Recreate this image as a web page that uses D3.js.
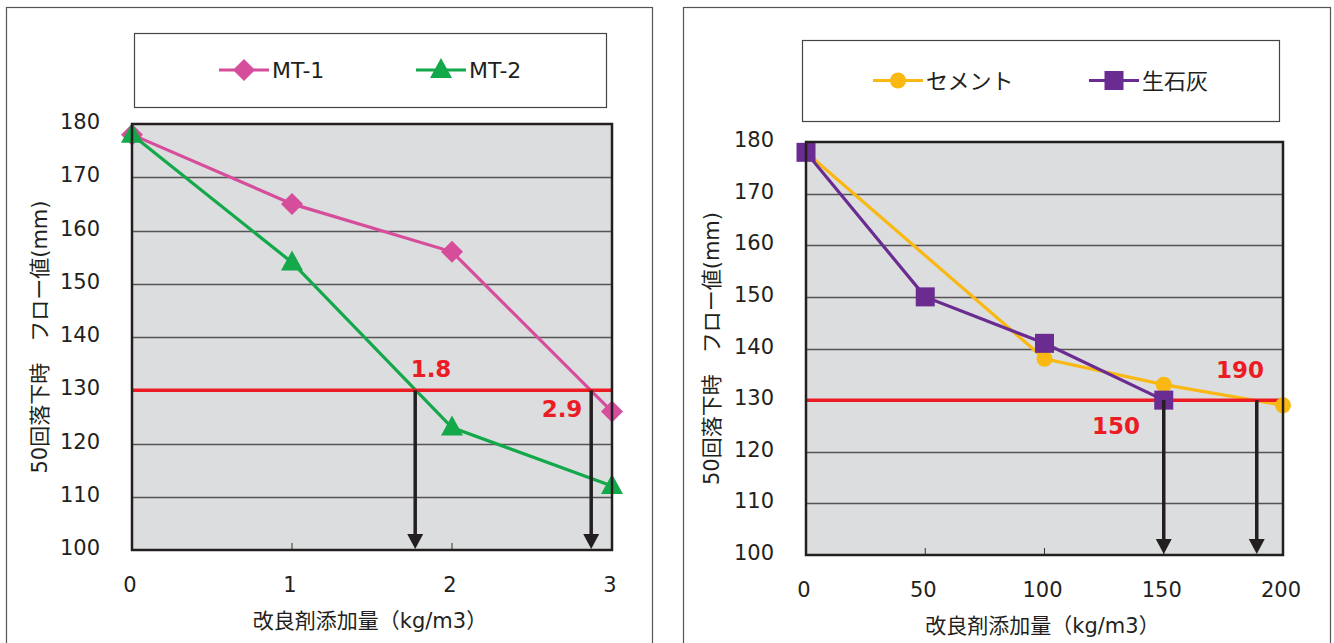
<!DOCTYPE html>
<html>
<head>
<meta charset="utf-8">
<script src="https://cdn.jsdelivr.net/npm/d3@7"></script>
<style>
  body { margin: 0; background: #fff; }
  svg { display: block; font-family: "DejaVu Sans", "Noto Sans CJK JP", sans-serif; }
</style>
</head>
<body>
<svg id="chart" width="1334" height="643"></svg>
<script>
// left chart: MT series
var mtX = [0, 1, 2, 3];
var mt1 = [178, 165, 156, 126];
var mt2 = [178, 154, 123, 112];
var mtTicksX = [0, 1, 2, 3];
var mtCross = [1.77, 2.87];
var mtCrossLabels = ["1.8", "2.9"];

// right chart: cement / quicklime
var cementX = [0, 100, 150, 200];
var cement = [178, 138, 133, 129];
var limeX = [0, 50, 100, 150];
var lime = [178, 150, 141, 130];
var rightTicksX = [0, 50, 100, 150, 200];
var rightCross = [150, 189];
var rightCrossLabels = ["150", "190"];

var yTicks = [100, 110, 120, 130, 140, 150, 160, 170, 180];
var limitValue = 130;
var yTitle = "50回落下時　フロー値(mm)";
var xTitle = "改良剤添加量（kg/m3）";

var svg = d3.select("#chart");

function marker(g, type, color, x, y) {
    if (type === "diamond") {
        g.append("path").attr("d", "M0,-11L11,0L0,11L-11,0Z")
            .attr("transform", "translate(" + x + "," + y + ")").attr("fill", color);
    } else if (type === "triangle") {
        g.append("path").attr("d", "M0,-12L11,8L-11,8Z")
            .attr("transform", "translate(" + x + "," + y + ")").attr("fill", color);
    } else if (type === "circle") {
        g.append("circle").attr("cx", x).attr("cy", y).attr("r", 8).attr("fill", color);
    } else {
        g.append("rect").attr("x", x - 9.5).attr("y", y - 9.5).attr("width", 19).attr("height", 19).attr("fill", color);
    }
}

function drawPanel(cfg) {
    var g = svg.append("g");

    // outer frame
    g.append("rect").attr("x", cfg.frame[0] + 0.5).attr("y", 7.5)
        .attr("width", cfg.frame[1] - cfg.frame[0]).attr("height", 660)
        .attr("fill", "#fff").attr("stroke", "#555").attr("stroke-width", 1.2);

    // legend box
    g.append("rect").attr("x", cfg.legend[0] + 0.5).attr("y", cfg.legend[1] + 0.5)
        .attr("width", cfg.legend[2]).attr("height", cfg.legend[3])
        .attr("fill", "#fff").attr("stroke", "#444").attr("stroke-width", 1.2);

    var x = d3.scaleLinear().domain(cfg.xDomain).range([cfg.plot[0], cfg.plot[1]]);
    var y = d3.scaleLinear().domain([100, 180]).range([cfg.plot[3], cfg.plot[2]]);

    g.append("rect").attr("x", cfg.plot[0]).attr("y", cfg.plot[2])
        .attr("width", cfg.plot[1] - cfg.plot[0]).attr("height", cfg.plot[3] - cfg.plot[2])
        .attr("fill", "#dcdddf");

    // gridlines
    g.selectAll(".grid").data(yTicks.slice(1, -1)).enter().append("line")
        .attr("x1", cfg.plot[0]).attr("x2", cfg.plot[1])
        .attr("y1", function (d) { return Math.round(y(d)) + 0.5; })
        .attr("y2", function (d) { return Math.round(y(d)) + 0.5; })
        .attr("stroke", "#555").attr("stroke-width", 1.3);

    // small x ticks inside bottom
    g.selectAll(".xt").data(cfg.xTicks.slice(1, -1)).enter().append("line")
        .attr("x1", function (d) { return x(d); }).attr("x2", function (d) { return x(d); })
        .attr("y1", cfg.plot[3]).attr("y2", cfg.plot[3] - 7)
        .attr("stroke", "#333").attr("stroke-width", 1);

    // series lines
    cfg.series.forEach(function (s) {
        var pts = s.x.map(function (v, i) { return [x(v), y(s.y[i])]; });
        g.append("path").attr("d", d3.line()(pts)).attr("fill", "none")
            .attr("stroke", s.color).attr("stroke-width", 3.2);
    });

    // limit line
    g.append("line").attr("x1", cfg.plot[0]).attr("x2", cfg.plot[1])
        .attr("y1", y(limitValue)).attr("y2", y(limitValue))
        .attr("stroke", "#ec1c24").attr("stroke-width", 3.5);

    cfg.series.forEach(function (s) {
        s.x.forEach(function (v, i) { marker(g, s.marker, s.color, x(v), y(s.y[i])); });
    });

    // arrows
    cfg.cross.forEach(function (c) {
        g.append("line").attr("x1", x(c)).attr("x2", x(c))
            .attr("y1", y(limitValue)).attr("y2", cfg.plot[3] - 10)
            .attr("stroke", "#231f20").attr("stroke-width", 3.5);
        g.append("path")
            .attr("d", "M" + (x(c) - 8) + "," + (cfg.plot[3] - 16) + "L" + (x(c) + 8) + "," + (cfg.plot[3] - 16) +
                "L" + x(c) + "," + (cfg.plot[3] - 1) + "Z")
            .attr("fill", "#231f20");
    });

    // frame of plot
    g.append("rect").attr("x", cfg.plot[0]).attr("y", cfg.plot[2])
        .attr("width", cfg.plot[1] - cfg.plot[0]).attr("height", cfg.plot[3] - cfg.plot[2])
        .attr("fill", "none").attr("stroke", "#231f20").attr("stroke-width", 2.5);

    // crossing labels
    cfg.crossLabels.forEach(function (t, i) {
        g.append("text").attr("x", cfg.labelPos[i][0]).attr("y", cfg.labelPos[i][1])
            .attr("text-anchor", "middle").attr("font-size", 23).attr("font-weight", "bold")
            .attr("fill", "#ec1c24").text(t);
    });

    // y tick labels
    g.selectAll(".yl").data(yTicks).enter().append("text")
        .attr("x", cfg.plot[0] - 32).attr("y", function (d) { return y(d) + 5; })
        .attr("text-anchor", "end").attr("font-size", 21).attr("fill", "#231f20")
        .text(function (d) { return d; });

    // x tick labels
    g.selectAll(".xl").data(cfg.xTicks).enter().append("text")
        .attr("x", function (d) { return x(d) - 2; }).attr("y", cfg.plot[3] + 42)
        .attr("text-anchor", "middle").attr("font-size", 21).attr("fill", "#231f20")
        .text(function (d) { return d; });

    g.append("text").attr("x", (cfg.plot[0] + cfg.plot[1]) / 2 - 2).attr("y", cfg.plot[3] + 78)
        .attr("text-anchor", "middle").attr("font-size", 21).attr("fill", "#231f20").text(xTitle);

    g.append("text")
        .attr("transform", "translate(" + cfg.yTitleX + "," + ((cfg.plot[2] + cfg.plot[3]) / 2) + ") rotate(-90)")
        .attr("text-anchor", "middle").attr("font-size", 21).attr("fill", "#231f20").text(yTitle);

    // legend entries
    cfg.series.forEach(function (s, i) {
        var lx = cfg.legendItems[i], ly = cfg.legend[1] + cfg.legend[3] / 2;
        g.append("line").attr("x1", lx).attr("x2", lx + 50).attr("y1", ly).attr("y2", ly)
            .attr("stroke", s.color).attr("stroke-width", 3.2);
        marker(g, s.marker, s.color, lx + 25, ly);
        g.append("text").attr("x", lx + 53).attr("y", ly + 8).attr("font-size", 22)
            .attr("fill", "#231f20").text(s.name);
    });
}

drawPanel({
    frame: [6, 652],
    legend: [134, 33, 472, 74],
    plot: [132, 612, 124, 550],
    xDomain: [0, 3],
    xTicks: mtTicksX,
    series: [
        { name: "MT-1", x: mtX, y: mt1, color: "#d64d9c", marker: "diamond" },
        { name: "MT-2", x: mtX, y: mt2, color: "#13a84a", marker: "triangle" }
    ],
    cross: mtCross,
    crossLabels: mtCrossLabels,
    labelPos: [[431, 377], [562, 417]],
    legendItems: [219, 416],
    yTitleX: 47
});

drawPanel({
    frame: [683, 1330],
    legend: [802, 40, 477, 81],
    plot: [806, 1283, 142, 555],
    xDomain: [0, 200],
    xTicks: rightTicksX,
    series: [
        { name: "セメント", x: cementX, y: cement, color: "#f9b812", marker: "circle" },
        { name: "生石灰", x: limeX, y: lime, color: "#6a2c91", marker: "square" }
    ],
    cross: rightCross,
    crossLabels: rightCrossLabels,
    labelPos: [[1116, 434], [1240, 378]],
    legendItems: [873, 1089],
    yTitleX: 719
});
</script>
</body>
</html>
